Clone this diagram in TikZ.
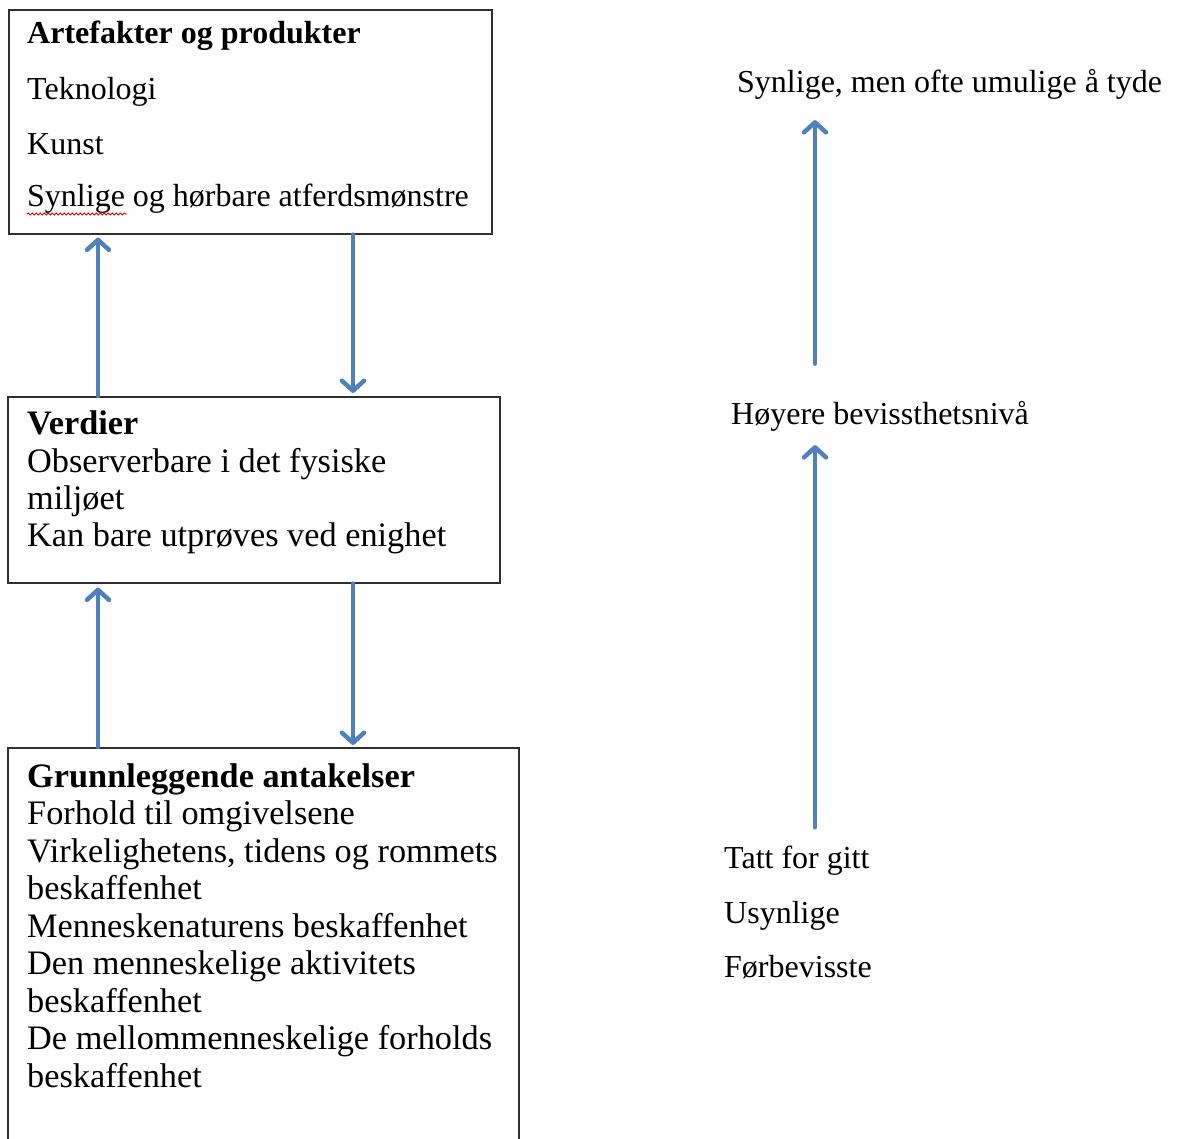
\documentclass[tikz,border=0pt]{standalone}
\usepackage{fontspec}
\setmainfont{Liberation Serif}
\usetikzlibrary{arrows.meta,decorations.pathmorphing}
\definecolor{arrowblue}{HTML}{4F81BD}
\definecolor{boxline}{HTML}{303030}
\tikzset{
  boxnode/.style={draw=boxline, line width=1.6pt, anchor=north west, inner sep=0pt},
  txtA/.style={anchor=base west, inner sep=0pt, font=\fontsize{32}{40}\selectfont},
  txtB/.style={anchor=base west, inner sep=0pt, font=\fontsize{34.3}{37.5}\selectfont},
  arr/.style={draw=arrowblue, line width=4.5pt, line cap=round,
    -{Straight Barb[length=10pt,width=22pt,line width=4.5pt,round]}},
}
\begin{document}
\begin{tikzpicture}[x=1pt,y=-1pt]
\useasboundingbox (0,0) rectangle (1179,1139);
\clip (0,0) rectangle (1179,1139);
\fill[white] (0,0) rectangle (1179,1139);

% boxes
\node[boxnode, minimum width=483pt, minimum height=224pt] (b1) at (8,9) {};
\node[boxnode, minimum width=492pt, minimum height=186pt] (b2) at (7,396) {};
\node[boxnode, minimum width=511pt, minimum height=420pt] (b3) at (7,747) {};

% box 1 text
\node[txtA, font=\fontsize{32}{40}\selectfont\bfseries] (t1a) at (27,44) {Artefakter og produkter};
\node[txtA] (t1b) at (27,100) {Teknologi};
\node[txtA] (t1c) at (27,155) {Kunst};
\node[txtA] (t1d) at (27,207) {Synlige og hørbare atferdsmønstre};
\draw[red!85!black, line width=0.8pt, decorate,
      decoration={snake, amplitude=1.1pt, segment length=4pt}]
      (t1d.base west) ++(0,7) coordinate (sq1) -- ++(100,0) coordinate (sq2);

% box 2 text
\node[txtB, font=\fontsize{34.3}{37.5}\selectfont\bfseries] (t2a) at (27,435) {Verdier};
\node[txtB] (t2b) at (27,472.5) {Observerbare i det fysiske};
\node[txtB] (t2c) at (27,510) {miljøet};
\node[txtB] (t2d) at (27,547) {Kan bare utprøves ved enighet};

% box 3 text
\node[txtB, font=\fontsize{34.3}{37.5}\selectfont\bfseries] (t3a) at (27,787) {Grunnleggende antakelser};
\node[txtB] (t3b) at (27,824.5) {Forhold til omgivelsene};
\node[txtB] (t3c) at (27,862) {Virkelighetens, tidens og rommets};
\node[txtB] (t3d) at (27,899.5) {beskaffenhet};
\node[txtB] (t3e) at (27,937) {Menneskenaturens beskaffenhet};
\node[txtB] (t3f) at (27,974.5) {Den menneskelige aktivitets};
\node[txtB] (t3g) at (27,1012) {beskaffenhet};
\node[txtB] (t3h) at (27,1049.5) {De mellommenneskelige forholds};
\node[txtB] (t3i) at (27,1087) {beskaffenhet};

% right side texts
\node[txtA] (r1) at (737,93) {Synlige, men ofte umulige å tyde};
\node[txtA] (r2) at (731,425) {Høyere bevissthetsnivå};
\node[txtA] (r3) at (724,868) {Tatt for gitt};
\node[txtA] (r4) at (724,923) {Usynlige};
\node[txtA] (r5) at (724,977) {Førbevisste};

% left arrows
\coordinate (xl) at (98,0);
\coordinate (xr) at (353,0);
\draw[arr, shorten >=3pt] (xl |- b2.north) -- (xl |- b1.south);
\draw[arr, shorten >=3pt] (xr |- b1.south) -- (xr |- b2.north);
\draw[arr, shorten >=4pt] (xl |- b3.north) -- (xl |- b2.south);
\draw[arr, shorten >=2pt] (xr |- b2.south) -- (xr |- b3.north);

% right arrows
\coordinate (xm) at (815,0);
\draw[arr, shorten <=38pt, shorten >=20pt] (xm |- r2.north) -- (xm |- r1.south);
\draw[arr, shorten <=18pt, shorten >=13pt] (xm |- r3.north) -- (xm |- r2.south);
\end{tikzpicture}
\end{document}
